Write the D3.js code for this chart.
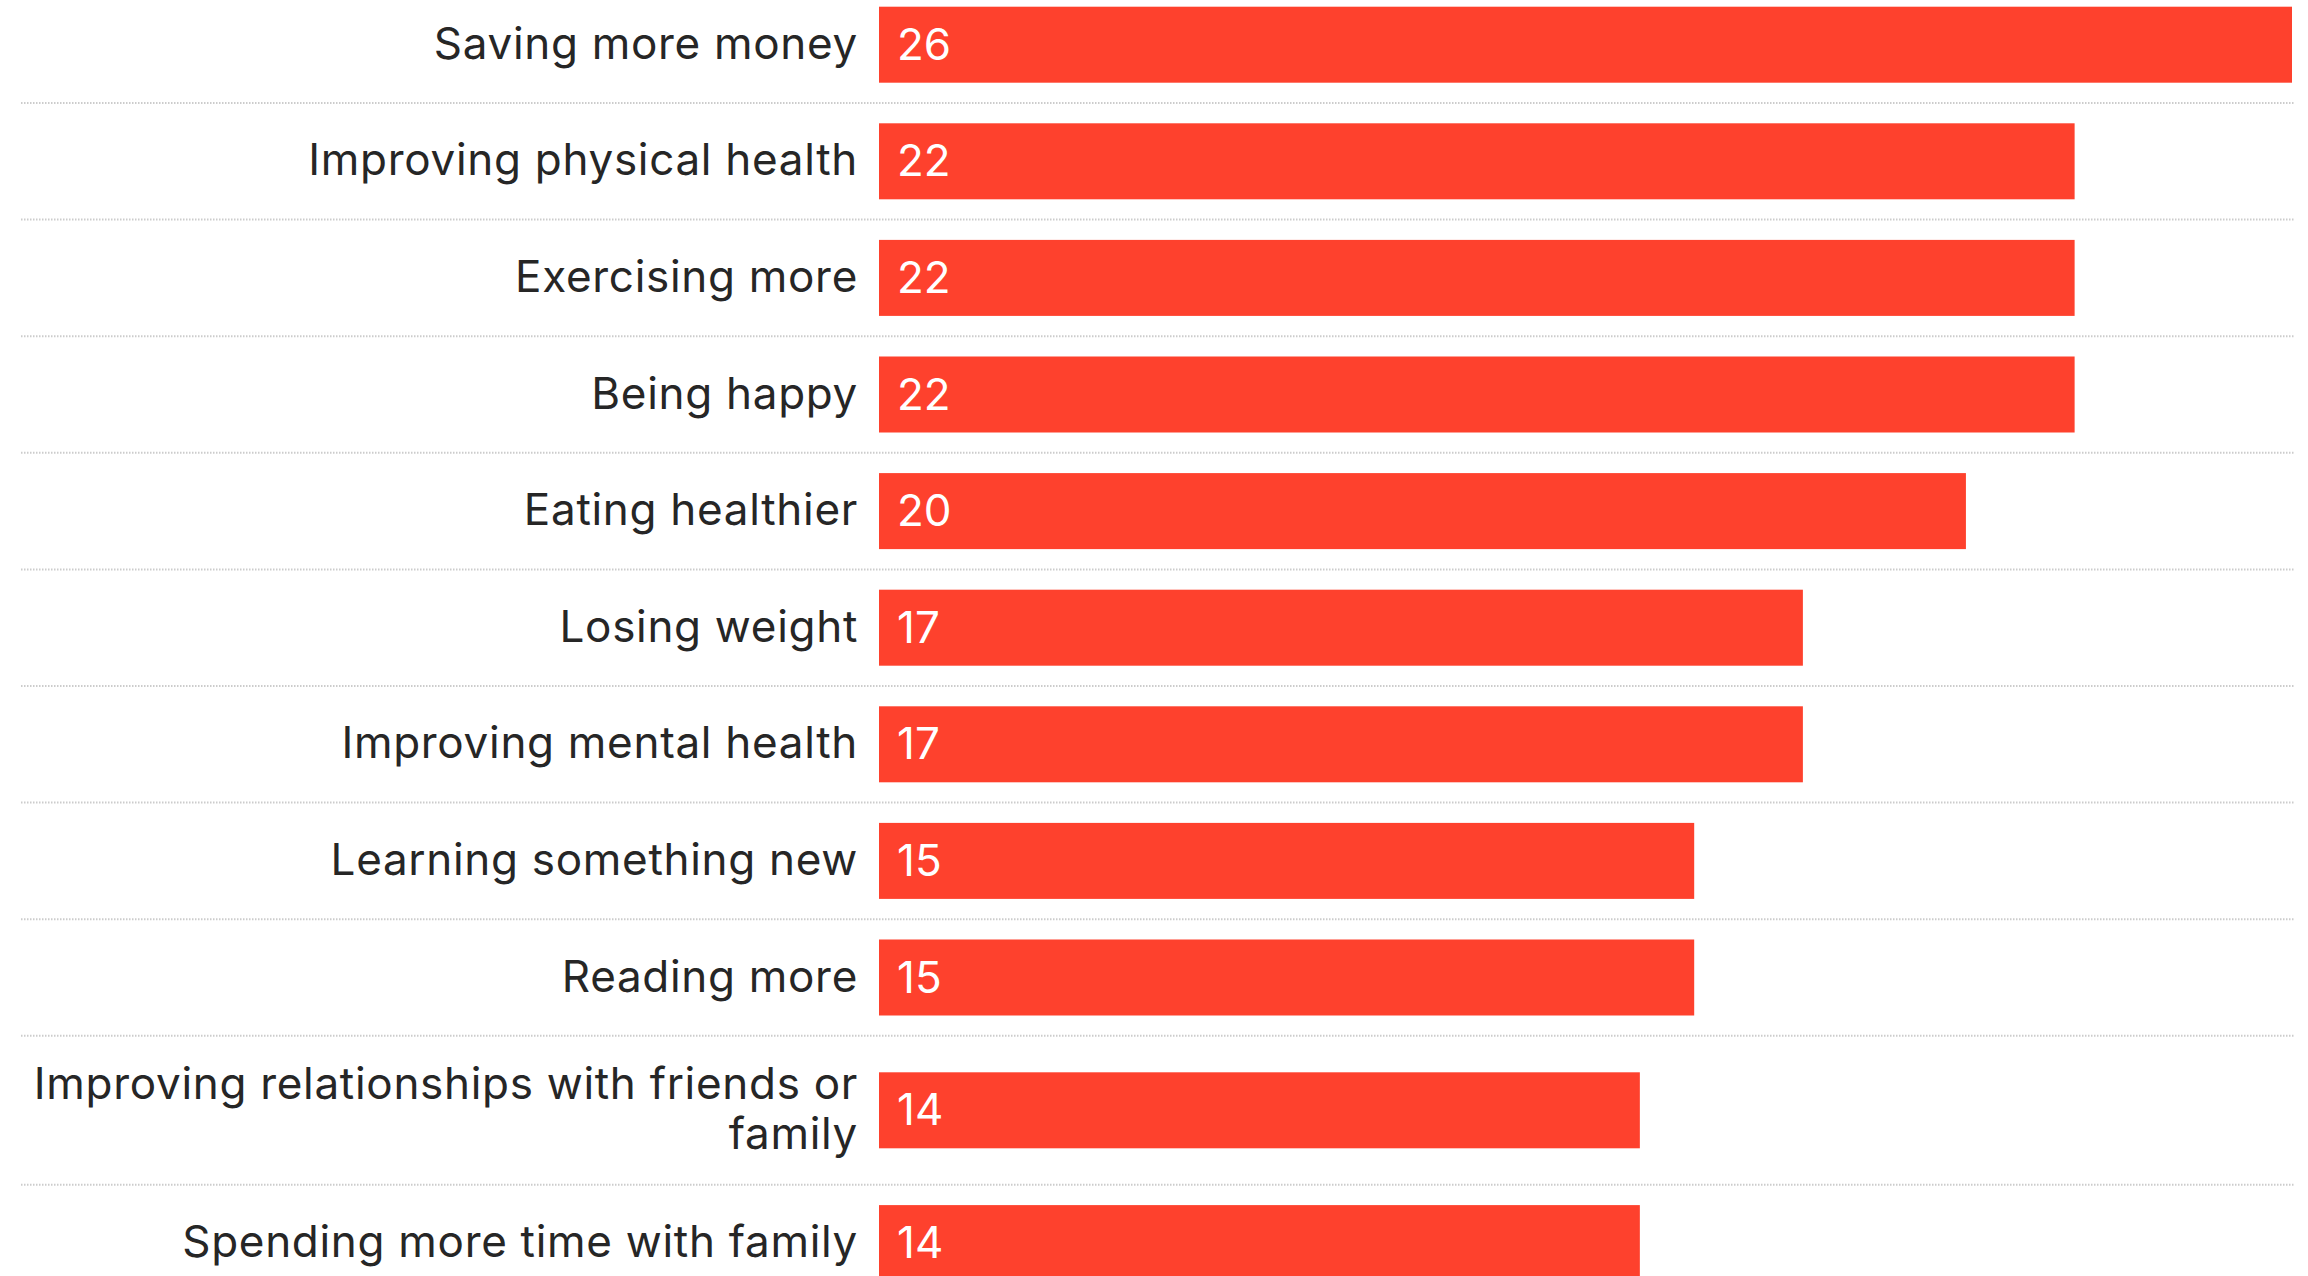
<!DOCTYPE html>
<html>
<head>
<meta charset="utf-8">
<script src="https://cdn.jsdelivr.net/npm/d3@7"></script>
<style>
  html, body { margin: 0; padding: 0; background: #fff; overflow: hidden; }
  svg { display: block; }
</style>
</head>
<body>
<div id="chart"></div>
<script>
// goals, share of respondents
const goals = [
  "Saving more money",
  "Improving physical health",
  "Exercising more",
  "Being happy",
  "Eating healthier",
  "Losing weight",
  "Improving mental health",
  "Learning something new",
  "Reading more",
  "Improving relationships with friends or family",
  "Spending more time with family"
];
const shares = [26, 22, 22, 22, 20, 17, 17, 15, 15, 14, 14];

const width = 2308, height = 1276;
const labelRight = 858, barLeft = 879, barRight = 2292;
const lineLeft = 21, lineRight = 2295;
const rowTop = -13.6, rowBase = 116.6, lineH = 50, barH = 76;
const maxLabel = 870;
const font = "Inter, 'Open Sans', sans-serif";

const svg = d3.select("#chart").append("svg")
  .attr("width", width)
  .attr("height", height);

const x = d3.scaleLinear()
  .domain([0, d3.max(shares)])
  .range([barLeft, barRight]);

// wrap labels first so row heights are known
const measure = svg.append("text")
  .style("font-family", font)
  .style("font-size", "44px")
  .style("letter-spacing", "0.7px");

function wrap(str) {
  const words = str.split(" ");
  let lines = [], cur = "";
  words.forEach(w => {
    const test = cur ? cur + " " + w : w;
    measure.text(test);
    if (measure.node().getComputedTextLength() > maxLabel && cur) {
      lines.push(cur);
      cur = w;
    } else cur = test;
  });
  lines.push(cur);
  return lines;
}

const rows = goals.map((g, i) => ({ goal: g, value: shares[i], lines: wrap(g) }));
measure.remove();

rows.forEach(r => r.h = Math.max(rowBase, r.lines.length * lineH + 49));
const ends = d3.cumsum(rows, r => r.h);
const y = d3.scaleLinear().domain([0, 1]).range([rowTop, rowTop + 1]);
rows.forEach((r, i) => {
  r.y1 = y(ends[i]);
  r.cy = y(ends[i] - r.h / 2);
});

// dotted separators
svg.append("g").selectAll("line")
  .data(rows)
  .join("line")
    .attr("x1", lineLeft)
    .attr("x2", lineRight)
    .attr("y1", d => d.y1)
    .attr("y2", d => d.y1)
    .attr("stroke", "#cccccc")
    .attr("stroke-width", 2)
    .attr("stroke-dasharray", "1.5,1.5");

// bars
svg.append("g").selectAll("rect")
  .data(rows)
  .join("rect")
    .attr("x", x(0))
    .attr("y", d => d.cy - barH / 2)
    .attr("width", d => x(d.value) - x(0))
    .attr("height", barH)
    .attr("fill", "#fe412d");

// value labels
svg.append("g").selectAll("text")
  .data(rows)
  .join("text")
    .attr("x", x(0) + 18)
    .attr("y", d => d.cy + 15)
    .attr("fill", "#fff")
    .style("font-family", font)
    .style("font-size", "44px")
    .text(d => d.value);

// category labels
const lab = svg.append("g").selectAll("text")
  .data(rows)
  .join("text")
    .attr("text-anchor", "end")
    .attr("fill", "#262626")
    .style("font-family", font)
    .style("font-size", "44px")
    .style("letter-spacing", "0.7px");

lab.selectAll("tspan")
  .data(d => d.lines.map((l, k) => ({ l, k, n: d.lines.length, cy: d.cy })))
  .join("tspan")
    .attr("x", labelRight)
    .attr("y", d => d.cy + 14 + (d.k - (d.n - 1) / 2) * lineH)
    .text(d => d.l);
</script>
</body>
</html>
